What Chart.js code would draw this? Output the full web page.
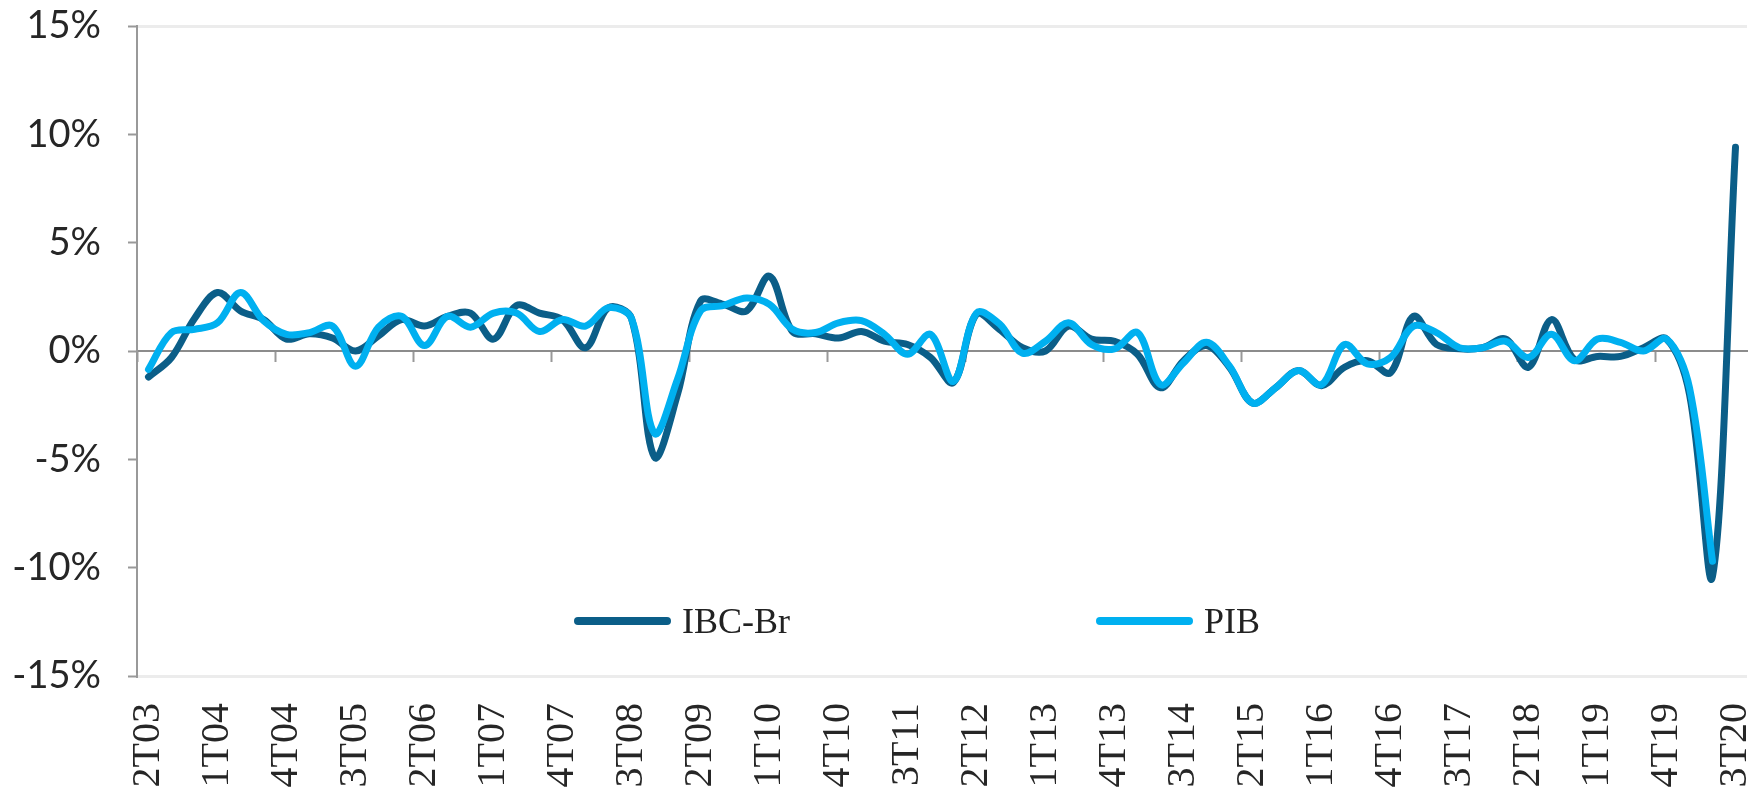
<!DOCTYPE html>
<html>
<head>
<meta charset="utf-8">
<script src="https://cdn.jsdelivr.net/npm/chart.js@4"></script>
<style>
  html, body { margin: 0; padding: 0; background: #fff; }
  #wrap { position: relative; width: 1756px; height: 789px; overflow: hidden; }
  .leg { position: absolute; display: flex; align-items: center; height: 42px;
         font-family: 'Liberation Serif', serif; font-size: 36px; color: #222; white-space: nowrap; }
  .leg .swatch { display: inline-block; width: 97px; height: 8px; border-radius: 4px; margin-right: 11px; }
</style>
</head>
<body>
<div id="wrap">
  <canvas id="chart" width="1756" height="789"></canvas>
</div>
<script>
// trimestres (2T03 .. 3T20)
const quarters = [
    '2T03', '3T03', '4T03',
    '1T04', '2T04', '3T04', '4T04',
    '1T05', '2T05', '3T05', '4T05',
    '1T06', '2T06', '3T06', '4T06',
    '1T07', '2T07', '3T07', '4T07',
    '1T08', '2T08', '3T08', '4T08',
    '1T09', '2T09', '3T09', '4T09',
    '1T10', '2T10', '3T10', '4T10',
    '1T11', '2T11', '3T11', '4T11',
    '1T12', '2T12', '3T12', '4T12',
    '1T13', '2T13', '3T13', '4T13',
    '1T14', '2T14', '3T14', '4T14',
    '1T15', '2T15', '3T15', '4T15',
    '1T16', '2T16', '3T16', '4T16',
    '1T17', '2T17', '3T17', '4T17',
    '1T18', '2T18', '3T18', '4T18',
    '1T19', '2T19', '3T19', '4T19',
    '1T20', '2T20', '3T20'
];

const ibcBr = [
    -1.2, -0.3, 1.5,
    2.7, 1.85, 1.45, 0.55,
    0.8, 0.6, 0.0, 0.7,
    1.45, 1.15, 1.6, 1.75,
    0.55, 2.1, 1.75, 1.45,
    0.15, 2.0, 1.5, -4.9,
    -2.0, 2.3, 2.15, 1.85,
    3.45, 0.9, 0.8, 0.6,
    0.9, 0.45, 0.3, -0.3,
    -1.45, 1.7, 1.0, 0.15,
    0.0, 1.15, 0.55, 0.45,
    -0.15, -1.7, -0.45, 0.25,
    -0.75, -2.4, -1.7, -0.9,
    -1.6, -0.75, -0.45, -1.0,
    1.6, 0.3, 0.1, 0.15,
    0.55, -0.75, 1.45, -0.4,
    -0.25, -0.25, 0.15, 0.55,
    -2.0, -10.4, 9.4
];

const pib = [
    -0.85, 0.85, 1.0,
    1.3, 2.7, 1.4, 0.77,
    0.85, 1.15, -0.7, 1.1,
    1.6, 0.25, 1.6, 1.1,
    1.75, 1.75, 0.9, 1.45,
    1.15, 2.0, 1.5, -3.8,
    -1.3, 1.85, 2.1, 2.45,
    2.15, 1.0, 0.85, 1.3,
    1.4, 0.77, -0.15, 0.77,
    -1.4, 1.75, 1.25, -0.1,
    0.45, 1.3, 0.3, 0.1,
    0.85, -1.55, -0.55, 0.4,
    -0.7, -2.4, -1.7, -0.9,
    -1.55, 0.3, -0.6, -0.3,
    1.15, 0.85, 0.15, 0.15,
    0.45, -0.3, 0.77, -0.45,
    0.55, 0.4, 0.0, 0.55,
    -1.7, -9.7, null
];

const yTicks = [-15, -10, -5, 0, 5, 10, 15];

const COLORS = {
    IBC: '#0b5e88',
    PIB: '#00b0f0',
    AXIS: '#999999',
    ZERO: '#8c8c8c',
    FRAME: '#ececec',
    TEXT: '#262626',
};

// posicoes da legenda (dentro da area do grafico)
const legendPos = [
    { left: 574, top: 600 },
    { left: 1096, top: 600 },
];

// o Chart.js soma o padding dos ticks nas bordas; zera para fixar a area do grafico
function noEdgePadding(s) {
    s.paddingTop = 0;
    s.paddingBottom = 0;
    s.paddingLeft = 0;
    s.paddingRight = 0;
}

const ctx = document.getElementById('chart').getContext('2d');
const chart = new Chart(ctx, {
    type: 'line',
    data: {
        labels: quarters,
        datasets: [
            {
                label: 'IBC-Br',
                data: ibcBr,
                borderColor: COLORS.IBC,
                borderWidth: 7,
                order: 2
            },
            {
                label: 'PIB',
                data: pib,
                borderColor: COLORS.PIB,
                borderWidth: 7,
                order: 1
            }
        ]
    },
    options: {
        responsive: false,
        devicePixelRatio: 1,
        animation: false,
        layout: { padding: { top: 26, right: 9, left: 0, bottom: 0 } },
        elements: {
            point: { radius: 0, hoverRadius: 0 },
            line: { tension: 0.35, borderJoinStyle: 'round', borderCapStyle: 'round', fill: false }
        },
        plugins: {
            legend: { display: false },
            tooltip: { enabled: false }
        },
        scales: {
            x: {
                type: 'category',
                position: 'bottom',
                offset: true,
                grid: { display: false, drawTicks: false },
                border: { display: false },
                ticks: {
                    autoSkip: false,
                    maxRotation: 90,
                    minRotation: 90,
                    padding: 27,
                    color: COLORS.TEXT,
                    font: { family: 'Liberation Serif', size: 40 },
                    callback: function(v, i) { return i % 3 === 0 ? this.getLabelForValue(v) : ''; }
                },
                afterFit: s => { s.height = 113; noEdgePadding(s); }
            },
            xZero: {
                type: 'category',
                position: { y: 0 },
                offset: true,
                grid: {
                    offset: true,
                    drawOnChartArea: false,
                    drawTicks: true,
                    tickLength: 10,
                    tickWidth: 2,
                    color: 'rgba(0,0,0,0)',
                    tickColor: c => (c.index % 6 === 0 ? COLORS.AXIS : 'rgba(0,0,0,0)')
                },
                border: { display: true, color: COLORS.ZERO, width: 2 },
                ticks: { display: false, autoSkip: false },
                afterFit: s => { s.height = 0; noEdgePadding(s); }
            },
            y: {
                min: -15,
                max: 15,
                afterBuildTicks: s => { s.ticks = yTicks.map(v => ({ value: v })); },
                ticks: {
                    padding: 27,
                    color: COLORS.TEXT,
                    font: { family: 'Lato', size: 38 },
                    callback: v => v + '%'
                },
                grid: {
                    color: c => (c.tick && Math.abs(c.tick.value) === 15 ? COLORS.FRAME : 'rgba(0,0,0,0)'),
                    lineWidth: 3,
                    tickLength: 9,
                    tickWidth: 2,
                    tickColor: COLORS.AXIS
                },
                border: { display: true, color: COLORS.AXIS, width: 2 },
                afterFit: s => { s.width = 137; noEdgePadding(s); }
            }
        }
    }
});

// legenda em HTML, montada a partir dos datasets
function buildLegend() {
    const wrap = document.getElementById('wrap');
    chart.data.datasets.forEach((ds, i) => {
        const item = document.createElement('div');
        item.className = 'leg';
        item.style.left = legendPos[i].left + 'px';
        item.style.top = legendPos[i].top + 'px';
        const sw = document.createElement('span');
        sw.className = 'swatch';
        sw.style.background = ds.borderColor;
        const txt = document.createElement('span');
        txt.textContent = ds.label;
        item.appendChild(sw);
        item.appendChild(txt);
        wrap.appendChild(item);
    });
}
buildLegend();
</script>
</body>
</html>
